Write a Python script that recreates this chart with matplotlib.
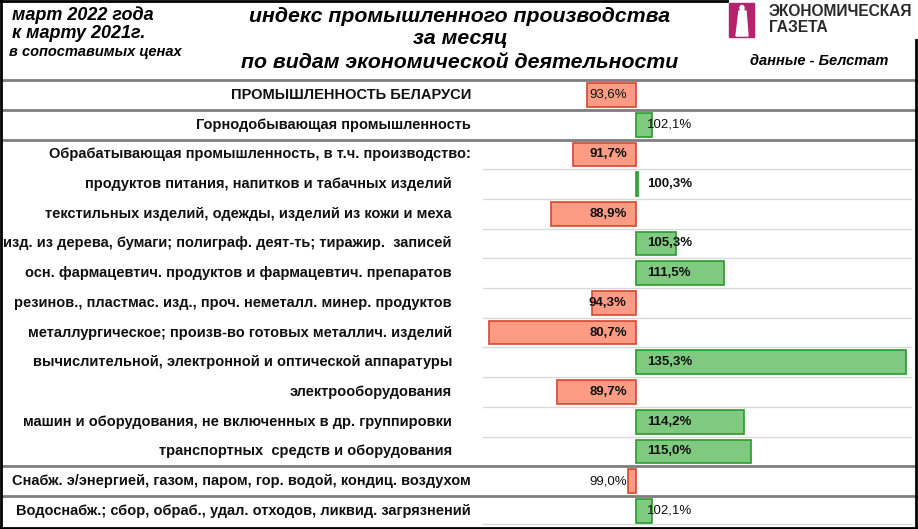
import matplotlib.pyplot as plt
from matplotlib.lines import Line2D
from matplotlib.patches import Rectangle, Ellipse, Polygon

plt.rcParams['font.family'] = ['Liberation Sans', 'DejaVu Sans']

# data
labels = [
    "ПРОМЫШЛЕННОСТЬ БЕЛАРУСИ",
    "Горнодобывающая промышленность",
    "Обрабатывающая промышленность, в т.ч. производство:",
    "продуктов питания, напитков и табачных изделий",
    "текстильных изделий, одежды, изделий из кожи и меха",
    "изд. из дерева, бумаги; полиграф. деят-ть; тиражир.  записей",
    "осн. фармацевтич. продуктов и фармацевтич. препаратов",
    "резинов., пластмас. изд., проч. неметалл. минер. продуктов",
    "металлургическое; произв-во готовых металлич. изделий",
    "вычислительной, электронной и оптической аппаратуры",
    "электрооборудования",
    "машин и оборудования, не включенных в др. группировки",
    "транспортных  средств и оборудования",
    "Снабж. э/энергией, газом, паром, гор. водой, кондиц. воздухом",
    "Водоснабж.; сбор, обраб., удал. отходов, ликвид. загрязнений",
]
values = [93.6, 102.1, 91.7, 100.3, 88.9, 105.3, 111.5, 94.3, 80.7,
          135.3, 89.7, 114.2, 115.0, 99.0, 102.1]
value_text = ["93,6%", "102,1%", "91,7%", "100,3%", "88,9%", "105,3%", "111,5%",
              "94,3%", "80,7%", "135,3%", "89,7%", "114,2%", "115,0%", "99,0%", "102,1%"]
sub_rows = list(range(3, 13))
group_breaks = [-0.5, 0.5, 1.5, 12.5, 13.5]

W, H = 918, 529
base = 100
ppu = 7.64      # pixels per index point
x_base = 636
row0, step = 95, 29.7

fig = plt.figure(figsize=(W / 100, H / 100), dpi=100)
ax = fig.add_axes([0, 0, 1, 1])
ax.set_xlim(base - x_base / ppu, base + (W - x_base) / ppu)
ax.set_ylim((H - row0) / step, -row0 / step)
ax.axis('off')


def xd(px):
    # pixel column -> data x
    return base + (px - x_base) / ppu


def ftext(x, y, s, **kw):
    fig.text(x / W, 1 - y / H, s, **kw)


# bars
for i, v in enumerate(values):
    if v >= base:
        fc, ec = '#80c980', '#2b992b'
    else:
        fc, ec = '#fd9b84', '#d6482c'
    ax.barh(i, v - base, left=base, height=0.8, color=fc, edgecolor=ec, linewidth=1.2, zorder=3)
    bold = 'bold' if 2 <= i <= 12 else 'normal'
    if v >= base:
        ax.text(base + 1.4, i, value_text[i], ha='left', va='center', fontsize=9.5,
                fontweight=bold, color='#111111', zorder=4)
    else:
        ax.text(base - 1.2, i, value_text[i], ha='right', va='center', fontsize=9.5,
                fontweight=bold, color='#111111', zorder=4)

    lx = xd(452) if i in sub_rows else xd(471)
    ax.text(lx, i, labels[i], ha='right', va='center', fontsize=10.5,
            fontweight='bold', color='#111111')

# thin row separators
for i in range(2, 12):
    ax.plot([xd(483), xd(911)], [i + 0.5, i + 0.5], color='#d9d9d9', lw=1, zorder=1)
ax.plot([xd(483), xd(911)], [14.45, 14.45], color='#d9d9d9', lw=1, zorder=1)

# group lines
for b in group_breaks:
    ax.plot([xd(2), xd(916)], [b, b], color='#7f7f7f', lw=2, zorder=2)

# borders
def fline(xs, ys, **kw):
    fig.add_artist(Line2D([x / W for x in xs], [1 - y / H for y in ys], **kw))

fline([1, 1], [0, 529], color='black', lw=2)
fline([0, 727], [1, 1], color='black', lw=2)
fline([916, 916], [40, 528], color='black', lw=2)
fline([0, 918], [527.5, 527.5], color='black', lw=2)

# header
ftext(12, 15, "март 2022 года", fontsize=13, fontweight='bold', style='italic', va='center')
ftext(12, 34, "к марту 2021г.", fontsize=13, fontweight='bold', style='italic', va='center')
ftext(9, 52, "в сопоставимых ценах", fontsize=10.5, fontweight='bold', style='italic', va='center')

ftext(460, 17, "индекс промышленного производства", fontsize=15.3, fontweight='bold',
      style='italic', ha='center', va='center')
ftext(460, 39, "за месяц", fontsize=15.3, fontweight='bold', style='italic', ha='center', va='center')
ftext(460, 63, "по видам экономической деятельности", fontsize=15.3, fontweight='bold',
      style='italic', ha='center', va='center')

ftext(750, 61, "данные - Белстат", fontsize=10.5, fontweight='bold', style='italic', va='center')

# logo
fig.add_artist(Rectangle((729 / W, 1 - 37 / H), 25 / W, 34 / H, transform=fig.transFigure,
                         color='#b3246f'))
fig.add_artist(Ellipse((742 / W, 1 - 8 / H), 4 / W, 5 / H, transform=fig.transFigure, color='white'))
fig.add_artist(Polygon([(739 / W, 1 - 11 / H), (746 / W, 1 - 11 / H), (748 / W, 1 - 36 / H),
                        (736 / W, 1 - 36 / H)], closed=True, transform=fig.transFigure, color='white'))
ftext(769, 12, "ЭКОНОМИЧЕСКАЯ", fontsize=11.2, fontweight='bold', color='#2a2a2a', va='center')
ftext(769, 28, "ГАЗЕТА", fontsize=11.2, fontweight='bold', color='#2a2a2a', va='center')

fig.savefig('out.png', dpi=100)
